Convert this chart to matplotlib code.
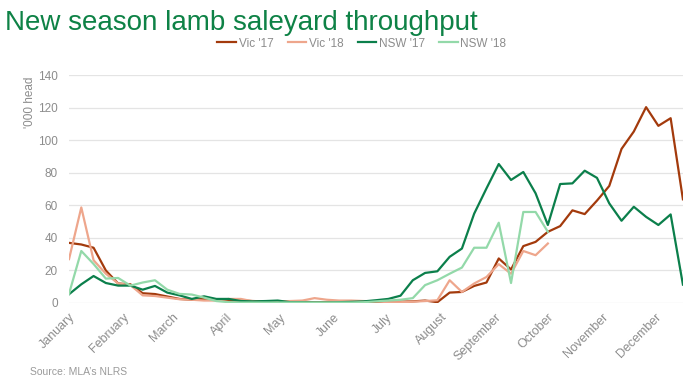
import numpy as np
import matplotlib.pyplot as plt

# weekly throughput, '000 head (week index 0..50)
vic17 = [37, 36, 34, 20, 12, 11.5, 6, 5.5, 4, 2.5, 2, 2.5, 2, 1.5, 1.5, 1.2, 1, 1, 0.8, 0.7,
         0.5, 0.5, 0.5, 0.5, 0.5, 0.5, 0.5, 0.8, 1, 1.5, 0.5, 6.4, 6.8, 10.5, 12.6, 27.4, 20.6, 35, 37.6, 43.8,
         47.3, 57, 54.7, 63, 72, 94.8, 105.5, 120.5, 109, 113.7, 63.8]
vic18 = [27, 58.8, 26.3, 18, 12, 11, 4.7, 4.3, 3.3, 2.3, 2, 1.5, 1.5, 2.5, 2.5, 1, 0.8, 1, 1.2, 1.5,
         3, 2, 1.5, 1.5, 1.2, 1, 0.5, 0.5, 0.8, 1.2, 1.7, 14, 6.8, 12, 16, 23.9, 18, 32, 29.4, 36.6]
nsw17 = [5.4, 11.5, 16.6, 12.3, 10.7, 10.7, 8.2, 10.5, 6.4, 4.7, 2.5, 4.1, 2.5, 2.5, 1.2, 1, 1.2, 1.5, 0.5, 0.5,
         0.3, 0.3, 0.5, 0.7, 1, 1.7, 2.5, 4.5, 14, 18.5, 19.5, 28.4, 33.5, 55, 70.5, 85.5, 75.7, 80.6, 67.5, 48,
         73.2, 73.6, 81.4, 77, 61.3, 50.6, 59.2, 53, 48, 54.5, 11.3]
nsw18 = [5.7, 32, 24, 15, 15.4, 10.7, 12.6, 14, 8.2, 5.6, 5.2, 3.3, 1.2, 0.5, 0.3, 0.3, 0.3, 0.3, 0.3, 0.3,
         0.3, 0.3, 0.3, 0.3, 0.5, 1, 1.5, 2, 3, 11, 14, 18, 21.8, 34, 34, 49.4, 12.3, 56, 56, 43.8]

months = ['January', 'February', 'March', 'April', 'May', 'June', 'July',
          'August', 'September', 'October', 'November', 'December']
month_start_day = [0, 31, 59, 90, 120, 151, 181, 212, 243, 273, 304, 334]

series = [("Vic '17", vic17, '#A33A0C'),
          ("Vic '18", vic18, '#EEA68C'),
          ("NSW '17", nsw17, '#0B7F4B'),
          ("NSW '18", nsw18, '#93D9A9')]

plt.rcParams['font.family'] = ['Liberation Sans', 'DejaVu Sans']
grey = '#8C8C8C'

fig = plt.figure(figsize=(7, 3.85), dpi=100)
ax = fig.add_axes([0.0986, 0.213, 0.877, 0.591])

for name, vals, col in series:
    ax.plot(np.arange(len(vals)), vals, color=col, lw=1.6, label=name)

ax.set_xlim(0, 50)
ax.set_ylim(0, 140)
ax.set_yticks(np.arange(0, 141, 20))
ax.yaxis.grid(True, color='#E4E4E4', lw=0.9)
ax.set_axisbelow(True)
for s in ax.spines.values():
    s.set_visible(False)
ax.tick_params(axis='both', length=0, colors=grey, labelsize=8.5)
ax.tick_params(axis='y', pad=8)

ax.set_xticks(np.array(month_start_day) / 7)
ax.set_xticklabels(months, rotation=45, ha='right', rotation_mode='anchor', fontsize=9)
ax.tick_params(axis='x', pad=6)

ax.set_ylabel("'000 head", color=grey, fontsize=8.5)
ax.yaxis.set_label_coords(-0.054, 0.88)

ax.legend(loc='center', bbox_to_anchor=(0.477, 1.14), ncol=4, frameon=False,
          fontsize=8.5, labelcolor=grey, handlelength=1.6, handletextpad=0.2,
          columnspacing=1.2)

fig.text(0.007, 0.94, 'New season lamb saleyard throughput', color='#0E8246',
         fontsize=20, va='center', ha='left')
fig.text(0.043, 0.033, "Source: MLA\u2019s NLRS", color='#9A9A9A', fontsize=7.5,
         va='center', ha='left')

fig.savefig('out.png', dpi=100)
